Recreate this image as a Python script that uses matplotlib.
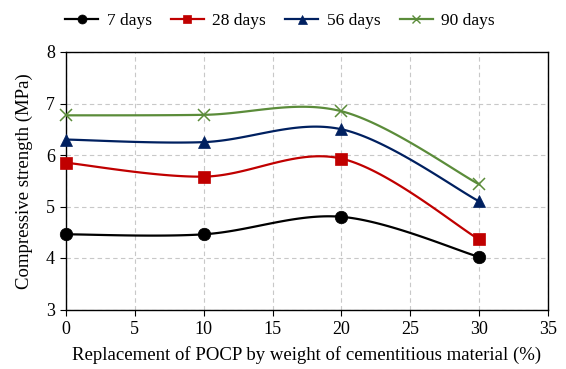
import numpy as np
import matplotlib.pyplot as plt
from matplotlib.lines import Line2D

plt.rcParams['font.family'] = ['Liberation Serif', 'DejaVu Serif']

replacement = [0, 10, 20, 30]
strength_7 = [4.46, 4.46, 4.8, 4.02]
strength_28 = [5.85, 5.58, 5.93, 4.36]
strength_56 = [6.3, 6.25, 6.5, 5.1]
strength_90 = [6.77, 6.78, 6.85, 5.43]


def smooth(xs, ys, n=40):
    # Catmull-Rom spline through the points, like Excel's smoothed line
    pts = np.column_stack([xs, ys]).astype(float)
    pad = np.vstack([pts[0], pts, pts[-1]])
    out = []
    for i in range(1, len(pad) - 2):
        p0, p1, p2, p3 = pad[i - 1], pad[i], pad[i + 1], pad[i + 2]
        t = np.linspace(0, 1, n)[:, None]
        c = 0.5 * ((2 * p1) + (-p0 + p2) * t + (2 * p0 - 5 * p1 + 4 * p2 - p3) * t ** 2
                   + (-p0 + 3 * p1 - 3 * p2 + p3) * t ** 3)
        out.append(c)
    c = np.vstack(out)
    return c[:, 0], c[:, 1]


fig = plt.figure(figsize=(5.66, 3.69), dpi=100)
ax = fig.add_axes([66 / 566, 1 - 309.5 / 369, (548 - 66) / 566, (309.5 - 52) / 369])

series = [
    ('7 days', strength_7, 'black', 'o', 9),
    ('28 days', strength_28, '#C00000', 's', 8),
    ('56 days', strength_56, '#002060', '^', 9),
    ('90 days', strength_90, '#5B8C3A', 'x', 8),
]
handles = []
for label, ys, col, mk, ms in series:
    sx, sy = smooth(replacement, ys)
    ax.plot(sx, sy, color=col, lw=1.6, zorder=3)
    ax.plot(replacement, ys, ls='none', marker=mk, color=col, ms=ms,
            mew=1.1 if mk == 'x' else 0.5, zorder=4, clip_on=False)
    handles.append(Line2D([], [], color=col, lw=1.6, marker=mk, ms=ms * 0.72,
                          mew=1.0 if mk == 'x' else 0.5, label=label))

ax.set_xlim(0, 35)
ax.set_ylim(3, 8)
ax.set_xticks(range(0, 36, 5))
ax.set_yticks(range(3, 9))
ax.grid(True, ls=(0, (4, 3)), color='#c8c8c8', lw=0.8)
ax.tick_params(labelsize=13, direction='out', length=4, pad=4)
for s in ax.spines.values():
    s.set_linewidth(1.0)
ax.set_xlabel('Replacement of POCP by weight of cementitious material (%)', fontsize=13.5, labelpad=6)
ax.set_ylabel('Compressive strength (MPa)', fontsize=13.5, labelpad=9)
ax.legend(handles=handles, loc='center', bbox_to_anchor=(0.444, 1 + 31 / 257.5), ncol=4,
          frameon=False, fontsize=12.5, handlelength=1.9, handletextpad=0.5,
          columnspacing=1.1, borderaxespad=0)

fig.savefig('out.png', dpi=100)
